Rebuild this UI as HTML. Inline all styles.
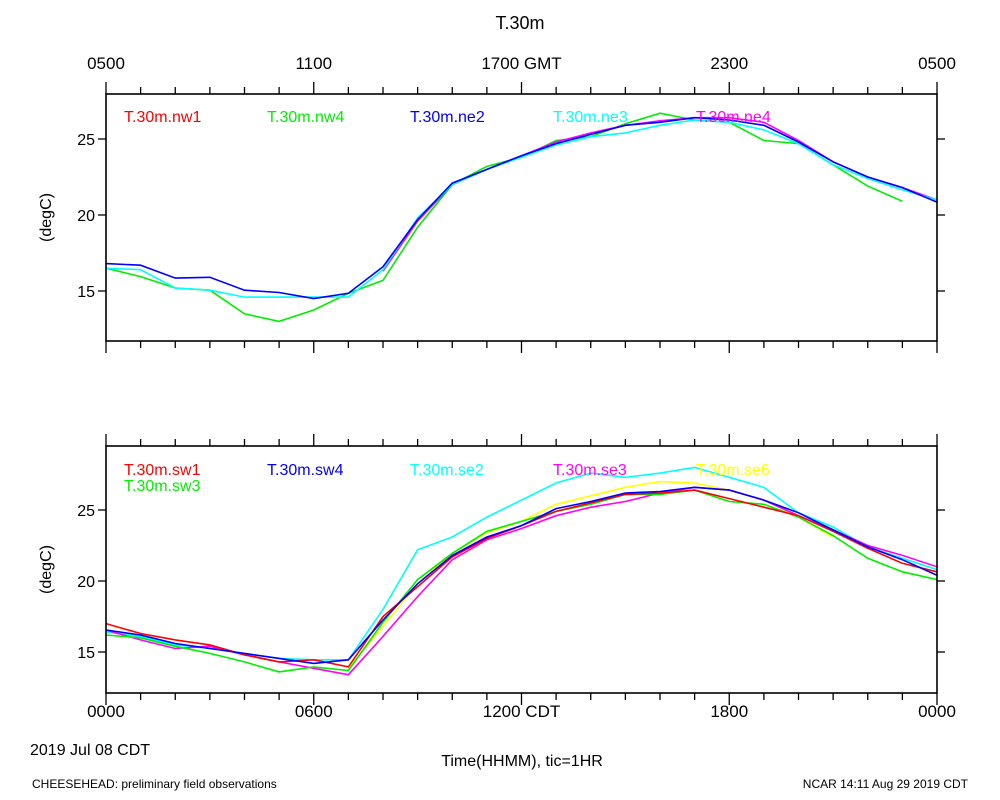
<!DOCTYPE html>
<html><head><meta charset="utf-8"><style>
html,body{margin:0;padding:0;background:#fff;}
svg{display:block;font-family:"Liberation Sans",sans-serif;}
</style></head><body>
<svg id="chart" width="1000" height="800" viewBox="0 0 1000 800" xmlns="http://www.w3.org/2000/svg">
<rect width="1000" height="800" fill="#fff"/>
<text x="520" y="29" font-size="18" text-anchor="middle">T.30m</text>
<text x="30" y="755" font-size="16">2019 Jul 08 CDT</text>
<text x="522" y="766" font-size="16" text-anchor="middle">Time(HHMM), tic=1HR</text>
<text x="32" y="788" font-size="12">CHEESEHEAD: preliminary field observations</text>
<text x="968" y="788" font-size="12" text-anchor="end">NCAR 14:11 Aug 29 2019 CDT</text>
<g id="plots"></g>
</svg>
<script>
const hours = [0,1,2,3,4,5,6,7,8,9,10,11,12,13,14,15,16,17,18,19,20,21,22,23,24];
const topTickLabels = ["0500","1100","1700 GMT","2300","0500"];
const bottomTickLabels = ["0000","0600","1200 CDT","1800","0000"];
const yTicks = [15,20,25];
const topNames = ["T.30m.nw1","T.30m.nw4","T.30m.ne2","T.30m.ne3","T.30m.ne4"];
const bottomNames = ["T.30m.sw1","T.30m.sw3","T.30m.sw4","T.30m.se2","T.30m.se3","T.30m.se6"];
const nw1 = [];
const nw4 = [16.5,15.95,15.2,15.05,13.5,13.0,13.75,14.85,15.7,19.2,22.0,23.2,23.8,24.9,25.15,26.0,26.7,26.25,26.1,24.9,24.7,23.3,21.9,20.9,null];
const ne2 = [16.8,16.7,15.85,15.9,15.05,14.9,14.5,14.85,16.6,19.7,22.1,23.0,23.9,24.7,25.3,25.9,26.1,26.4,26.25,25.9,24.8,23.5,22.5,21.8,20.85];
const ne3 = [16.5,16.4,15.2,15.05,14.6,14.6,14.6,14.6,16.4,19.8,22.0,23.0,23.8,24.6,25.15,25.4,25.9,26.25,26.1,25.6,24.7,23.3,22.4,21.65,21.0];
const ne4 = [null,null,null,null,null,null,null,null,16.3,19.6,22.0,23.0,23.9,24.8,25.4,25.9,26.2,26.4,26.4,26.1,24.9,23.5,22.5,21.8,21.0];
const sw1 = [17.0,16.3,15.85,15.5,14.8,14.3,14.45,13.95,17.5,19.6,21.7,23.0,23.9,24.9,25.5,26.1,26.2,26.4,25.8,25.2,24.6,23.5,22.3,21.25,20.65];
const sw3 = [16.2,16.0,15.4,14.9,14.3,13.6,13.95,13.7,17.1,20.1,21.95,23.5,24.2,24.9,25.4,26.1,26.1,26.4,25.6,25.4,24.5,23.2,21.6,20.65,20.1];
const sw4 = [16.55,16.2,15.6,15.25,14.9,14.55,14.2,14.45,17.25,19.8,21.8,23.1,23.9,25.1,25.6,26.2,26.3,26.6,26.4,25.7,24.8,23.6,22.4,21.5,20.4];
const se2 = [16.4,16.1,15.5,15.25,14.9,14.55,14.45,14.45,18.0,22.2,23.1,24.5,25.7,26.9,27.6,27.3,27.6,28.0,27.3,26.6,24.8,23.8,22.4,21.6,20.8];
const se3 = [16.55,15.85,15.25,15.4,14.8,14.3,13.85,13.4,16.1,18.9,21.5,22.9,23.7,24.6,25.2,25.6,26.2,26.6,26.4,25.7,24.6,23.6,22.5,21.8,21.0];
const se6 = [null,null,null,null,null,null,null,13.85,16.8,19.8,21.95,23.4,24.2,25.4,26.0,26.6,27.0,26.9,26.4,25.7,24.5,23.1,null,null,null];

const NS = "http://www.w3.org/2000/svg";
const root = document.getElementById("plots");
const X0 = 106, X1 = 937;
function xScale(h){ return X0 + (X1 - X0) * h / 24; }
function mk(tag, attrs, parent){
  const e = document.createElementNS(NS, tag);
  for (const k in attrs) e.setAttribute(k, attrs[k]);
  (parent || root).appendChild(e);
  return e;
}
function panel(cfg){
  const g = mk("g", {});
  
  
  const yS = v => cfg.y15 - (v - 15) * cfg.ppu;
  // x ticks
  for (let h = 0; h <= 24; h++) {
    const x = xScale(h), major = h % 6 === 0;
    const t1 = mk("line", {x1:x, x2:x, y1:cfg.top, y2:cfg.top - (major?12:7), stroke:"#000", "stroke-width":1.3}, g);
    
    
    const t2 = mk("line", {x1:x, x2:x, y1:cfg.bot, y2:cfg.bot + (major?12:7), stroke:"#000", "stroke-width":1.3}, g);
    
    
  }
  // y ticks
  yTicks.forEach(v => {
    const y = yS(v);
    const a = mk("line", {x1:X0 - 8, x2:X0, y1:y, y2:y, stroke:"#000", "stroke-width":1.3}, g);
    
    
    const b = mk("line", {x1:X1, x2:X1 + 8, y1:y, y2:y, stroke:"#000", "stroke-width":1.3}, g);
    
    
    const t = mk("text", {x:95, y:y + 6, "font-size":16, "text-anchor":"end"}, g);
    t.textContent = v;
    
    
  });
  const yl = mk("text", {x:0, y:0, "font-size":16, "text-anchor":"middle", transform:`translate(51,${(cfg.top+cfg.bot)/2}) rotate(-90)`}, g);
  yl.textContent = "(degC)";
  
  
  // series
  const clipId = cfg.name + "-clip";
  const cp = mk("clipPath", {id:clipId}, g);
  mk("rect", {x:X0, y:cfg.top, width:X1-X0, height:cfg.bot-cfg.top}, cp);
  cfg.series.forEach(s => {
    let d = "", pen = false;
    s.data.forEach((v, i) => {
      if (v === null || v === undefined) { pen = false; return; }
      d += (pen ? "L" : "M") + xScale(hours[i]).toFixed(1) + "," + yS(v).toFixed(1);
      pen = true;
    });
    if (!d) return;
    const p = mk("path", {d:d, fill:"none", stroke:s.color, "stroke-width":1.6, "clip-path":`url(#${clipId})`}, g);
    
    
  });
  const fr = mk("rect", {x:X0, y:cfg.top, width:X1-X0, height:cfg.bot-cfg.top, fill:"none", stroke:"#000", "stroke-width":1.6}, g);
  
  
  // legend
  cfg.series.forEach(s => {
    const t = mk("text", {x:s.lx, y:s.ly, "font-size":16, fill:s.color}, g);
    t.textContent = s.label;
    
    
  });
  // tick labels
  cfg.labels.forEach((lab, i) => {
    const t = mk("text", {x:xScale(i*6), y:cfg.labelY, "font-size":17, "text-anchor":"middle"}, g);
    t.textContent = lab;
    
    
  });
}
panel({name:"top-panel", top:94, bot:341, y15:291, ppu:15.2, labelY:69, labels:topTickLabels,
  series:[
    {label:topNames[0], data:nw1, color:"#ff0000", lx:124, ly:122},
    {label:topNames[1], data:nw4, color:"#00ee00", lx:267, ly:122},
    {label:topNames[4], data:ne4, color:"#ff00ff", lx:696, ly:122},
    {label:topNames[3], data:ne3, color:"#00ffff", lx:553, ly:122},
    {label:topNames[2], data:ne2, color:"#0000ff", lx:410, ly:122}
  ]});
panel({name:"bottom-panel", top:446, bot:693, y15:652, ppu:14.2, labelY:717, labels:bottomTickLabels,
  series:[
    {label:bottomNames[3], data:se2, color:"#00ffff", lx:410, ly:475},
    {label:bottomNames[5], data:se6, color:"#ffff00", lx:696, ly:475},
    {label:bottomNames[4], data:se3, color:"#ff00ff", lx:553, ly:475},
    {label:bottomNames[1], data:sw3, color:"#00ee00", lx:124, ly:491},
    {label:bottomNames[0], data:sw1, color:"#ff0000", lx:124, ly:475},
    {label:bottomNames[2], data:sw4, color:"#0000ff", lx:267, ly:475}
  ]});
</script>
</body></html>
